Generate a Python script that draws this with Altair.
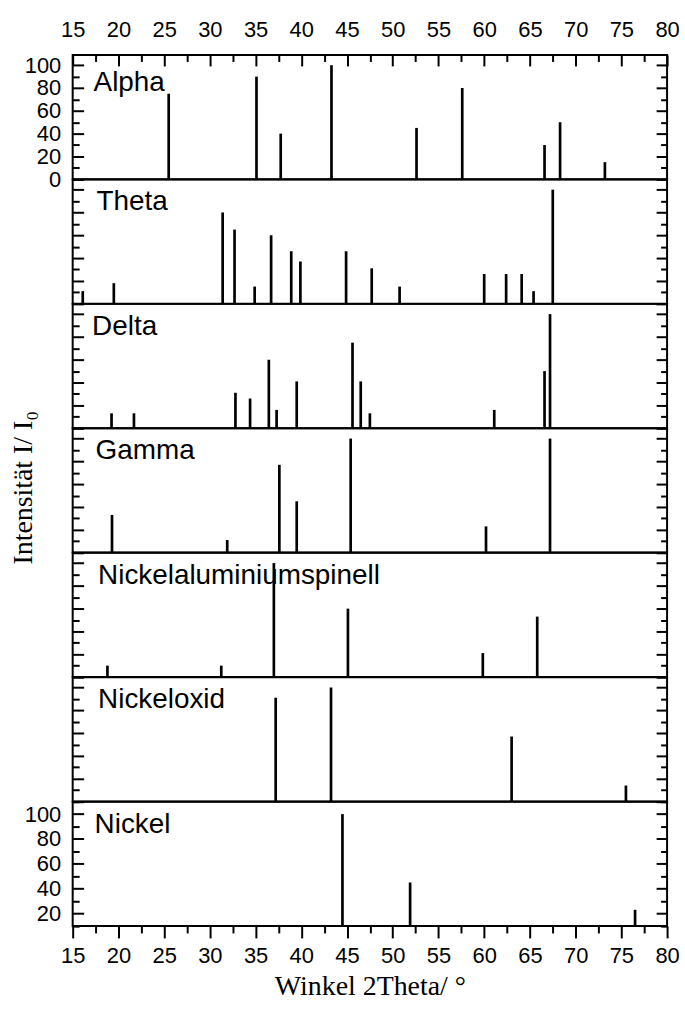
import altair as alt
import pandas as pd

# ---------------- data ----------------
panel_names = ["Alpha", "Theta", "Delta", "Gamma", "Nickelaluminiumspinell", "Nickeloxid", "Nickel"]

alpha_pos = [25.5, 35.1, 37.75, 43.3, 52.6, 57.6, 66.6, 68.3, 73.2]
alpha_int = [75, 90, 40, 100, 45, 80, 30, 50, 15]

theta_pos = [16.1, 19.5, 31.4, 32.7, 34.9, 36.7, 38.9, 39.9, 44.9, 47.7, 50.75, 60.0, 62.4, 64.1, 65.4, 67.5]
theta_int = [11, 18, 80, 65, 15, 60, 46, 37, 46, 31, 15, 26, 26, 26, 11, 100]

delta_pos = [19.25, 21.7, 32.8, 34.4, 36.45, 37.3, 39.5, 45.6, 46.5, 47.5, 61.1, 66.6, 67.2]
delta_int = [13, 13, 31, 26, 60, 16, 41, 75, 41, 13, 16, 50, 100]

gamma_pos = [19.3, 31.9, 37.6, 39.5, 45.4, 60.2, 67.2]
gamma_int = [33, 11, 77, 45, 100, 23, 100]

spinel_pos = [18.8, 31.25, 37.0, 45.1, 59.85, 65.8]
spinel_int = [10, 10, 100, 60, 21, 53]

nio_pos = [37.2, 43.25, 63.0, 75.5]
nio_int = [91, 100, 57, 14]

ni_pos = [44.5, 51.9, 76.5]
ni_int = [100, 45, 23]

x_major = list(range(15, 81, 5))
x_minor = [v + 2.5 for v in range(15, 80, 5)]

series = [
    (alpha_pos, alpha_int),
    (theta_pos, theta_int),
    (delta_pos, delta_int),
    (gamma_pos, gamma_int),
    (spinel_pos, spinel_int),
    (nio_pos, nio_int),
    (ni_pos, ni_int),
]

# ---------------- style ----------------
W = 597
H = 124.8
MAJ = 11
MIN = 6.5
SANS = "Liberation Sans"
SERIF = "Liberation Serif"
label_x = [21, 24, 19.5, 23, 25.5, 25.5, 22]
label_y = [36, 31, 31, 31, 31, 31, 31]


def panel(i):
    pos, inten = series[i]
    first = i == 0
    last = i == len(series) - 1
    lo, hi = (10, 110) if last else (0, 109)
    y_major = list(range(lo, hi + 1, 20)) if not last else list(range(20, 101, 20))
    y_minor = [v for v in range(lo, hi + 1, 10) if v not in y_major]
    df = pd.DataFrame({"pos": pos, "inten": inten})

    xs = alt.Scale(domain=[15, 80], nice=False, zero=False)
    ys = alt.Scale(domain=[lo, hi], nice=False, zero=False)

    common = dict(domain=False, grid=False, tickColor="black", tickWidth=2,
                  labelColor="black", labelFont=SANS, labelFontSize=22,
                  labelOverlap=False, labelFlush=False, zindex=1)

    # x axes
    if first:
        x_ax_major = alt.Axis(orient="top", values=x_major, offset=-MAJ, tickSize=MAJ,
                              labelPadding=14, format="d", title=None, **common)
        x_ax_minor = alt.Axis(orient="top", values=x_minor, offset=-MIN, tickSize=MIN,
                              labels=False, title=None, **common)
    elif last:
        x_ax_major = alt.Axis(orient="bottom", values=x_major, tickSize=12,
                              labelPadding=8, format="d",
                              title="Winkel 2Theta/ °", titleFont=SERIF, titleFontSize=28,
                              titleFontWeight="normal", titleColor="black",
                              titleX=W / 2, titleY=69, titleBaseline="alphabetic",
                              titleAlign="center", **common)
        x_ax_minor = alt.Axis(orient="bottom", values=x_minor, tickSize=7,
                              labels=False, title=None, **common)
    else:
        x_ax_major = None
        x_ax_minor = None

    if i == 3:
        ytitle = dict(title="Intensität I/ I₀", titleFont=SERIF, titleFontSize=28,
                      titleFontWeight="normal", titleColor="black", titleAngle=270,
                      titleX=-52, titleY=59.2, titleBaseline="alphabetic",
                      titleAlign="center")
    else:
        ytitle = dict(title=None)

    y_left_major = alt.Axis(orient="left", values=y_major, offset=-MAJ, tickSize=MAJ,
                            labels=first or last, labelPadding=12, format="d",
                            **ytitle, **common)
    y_left_minor = alt.Axis(orient="left", values=y_minor, offset=-MIN, tickSize=MIN,
                            labels=False, title=None, **common)
    y_right_major = alt.Axis(orient="right", values=y_major, offset=-MAJ, tickSize=MAJ,
                             labels=False, title=None, **common)
    y_right_minor = alt.Axis(orient="right", values=y_minor, offset=-MIN, tickSize=MIN,
                             labels=False, title=None, **common)

    base = alt.Chart(df)

    bars = base.mark_rule(color="black", strokeWidth=2.7).encode(
        x=alt.X("pos:Q", scale=xs, axis=x_ax_major),
        y=alt.Y("inten:Q", scale=ys, axis=y_left_major),
        y2=alt.datum(lo),
    )
    ax2 = base.mark_point(opacity=0).encode(
        x=alt.X("pos:Q", scale=xs, axis=x_ax_minor),
        y=alt.Y("inten:Q", scale=ys, axis=y_left_minor),
    )
    ax3 = base.mark_point(opacity=0).encode(
        x=alt.X("pos:Q", scale=xs, axis=None),
        y=alt.Y("inten:Q", scale=ys, axis=y_right_major),
    )
    ax4 = base.mark_point(opacity=0).encode(
        x=alt.X("pos:Q", scale=xs, axis=None),
        y=alt.Y("inten:Q", scale=ys, axis=y_right_minor),
    )
    lab = alt.Chart(pd.DataFrame({"name": [panel_names[i]]})).mark_text(
        align="left", baseline="alphabetic", font=SANS, fontSize=28, color="black"
    ).encode(
        x=alt.value(label_x[i]),
        y=alt.value(label_y[i]),
        text="name:N",
    )
    return alt.layer(bars, ax2, ax3, ax4, lab).resolve_axis(
        x="independent", y="independent"
    ).properties(width=W, height=H)


chart = alt.vconcat(*[panel(i) for i in range(len(series))], spacing=0, bounds="flush").properties(
    padding={"left": 8, "top": 15, "right": 4, "bottom": 4},
    background="white",
).configure_view(stroke="black", strokeWidth=2)

chart.save("out.html", embed_options={"renderer": "svg", "actions": False})
